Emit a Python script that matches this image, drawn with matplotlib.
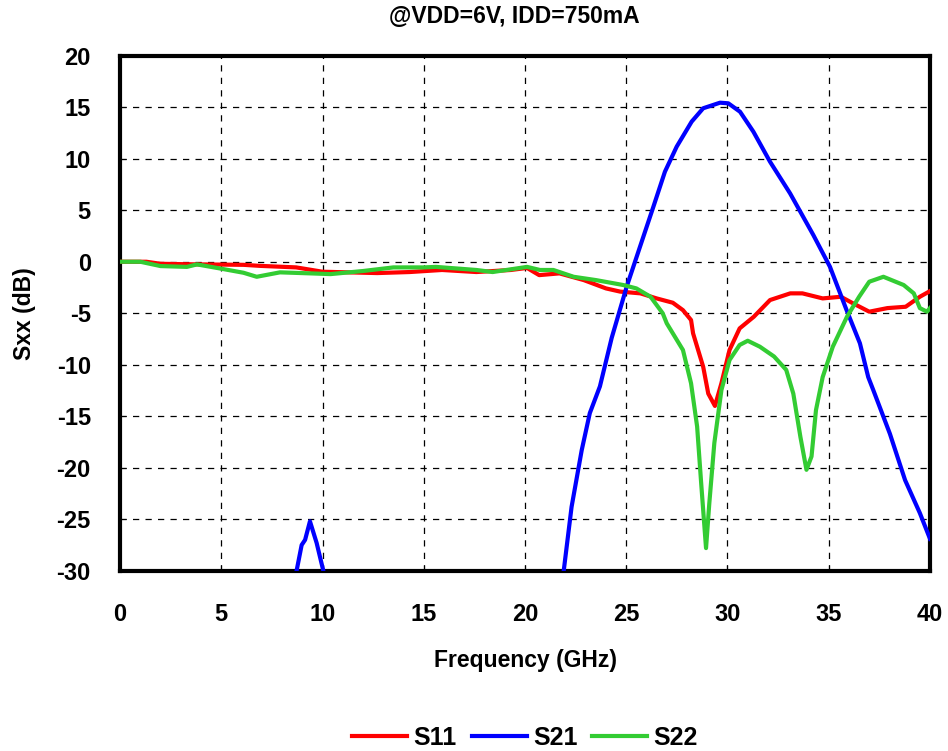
import numpy as np
import matplotlib
matplotlib.use("Agg")
import matplotlib.pyplot as plt

plt.rcParams['font.family'] = ['Liberation Sans', 'DejaVu Sans']
plt.rcParams['font.weight'] = 'bold'
plt.rcParams['axes.unicode_minus'] = False

title = "@VDD=6V, IDD=750mA"
x_label = "Frequency (GHz)"
y_label = "Sxx (dB)"

# S11 (red)
s11_f = [0.0, 1.3, 2.0, 3.6, 6.1, 6.9, 8.7, 10.0, 12.7, 14.3, 15.9, 17.6, 19.3, 20.1, 20.7,
         21.7, 22.9, 24.0, 24.7, 25.7, 26.5, 27.3, 27.8, 28.2, 28.3, 28.8, 29.05, 29.38,
         29.7, 30.1, 30.6, 31.3, 32.1, 33.1, 33.7, 34.7, 35.6, 36.2, 37.0, 37.9, 38.8, 39.5, 40.0]
s11_db = [0.0, 0.0, -0.2, -0.25, -0.3, -0.4, -0.55, -0.97, -1.1, -1.0, -0.8, -1.0, -0.8, -0.6, -1.3,
          -1.13, -1.78, -2.59, -2.9, -3.07, -3.56, -3.98, -4.7, -5.66, -6.95, -10.2, -12.8, -14.0,
          -11.8, -8.57, -6.47, -5.34, -3.72, -3.07, -3.07, -3.56, -3.4, -4.04, -4.85, -4.5, -4.37, -3.4, -2.85]

# S21 (blue)
s21_f = [8.6, 8.72, 8.97, 9.14, 9.38, 9.71, 10.04, 10.1, np.nan,
         21.85, 22.3, 22.8, 23.2, 23.7, 24.28, 25.02, 25.68, 26.34, 26.91, 27.49, 28.23, 28.8,
         29.63, 30.04, 30.62, 31.28, 32.1, 33.09, 34.24, 35.06, 35.88, 36.54, 36.95, 37.2,
         38.02, 38.77, 39.5, 40.0]
s21_db = [-31.0, -30.0, -27.5, -27.0, -25.2, -27.3, -30.0, -31.0, np.nan,
          -31.0, -23.8, -18.3, -14.7, -12.1, -7.4, -2.43, 1.46, 5.34, 8.74, 11.17, 13.6, 14.9,
          15.44, 15.38, 14.56, 12.62, 9.71, 6.64, 2.59, -0.49, -4.69, -7.92, -11.2, -12.46,
          -16.7, -21.2, -24.4, -26.9]

# S22 (green)
s22_f = [0.0, 1.0, 2.0, 3.3, 3.8, 4.9, 6.1, 6.75, 7.9, 9.4, 10.4, 12.0, 13.5, 15.0, 15.6, 17.6,
         18.4, 20.1, 20.74, 21.4, 22.4, 23.5, 24.85, 25.5, 26.2, 26.8, 27.0, 27.8, 28.2, 28.5,
         28.7, 28.94, 29.1, 29.35, 29.7, 30.1, 30.6, 31.0, 31.6, 32.3, 32.9, 33.25, 33.6, 33.9,
         34.15, 34.37, 34.7, 35.2, 35.9, 36.5, 37.0, 37.7, 38.7, 39.2, 39.5, 39.85, 40.0]
s22_db = [0.0, 0.0, -0.42, -0.5, -0.26, -0.64, -1.07, -1.46, -1.03, -1.13, -1.2, -0.9, -0.55, -0.55,
          -0.5, -0.8, -1.0, -0.5, -0.8, -0.8, -1.46, -1.78, -2.26, -2.59, -3.4, -5.0, -5.98, -8.57,
          -11.8, -16.0, -21.5, -27.8, -23.5, -17.6, -12.46, -9.54, -8.08, -7.67, -8.25, -9.2, -10.5,
          -12.8, -17.0, -20.2, -18.9, -14.4, -11.2, -8.25, -5.34, -3.4, -1.94, -1.46, -2.26, -3.07,
          -4.5, -4.85, -4.5]

x_ticks = [0, 5, 10, 15, 20, 25, 30, 35, 40]
y_ticks = [-30, -25, -20, -15, -10, -5, 0, 5, 10, 15, 20]

fig = plt.figure(figsize=(9.48, 7.51), dpi=100)
ax = fig.add_axes([0.1266, 0.24, 0.8544, 0.6858])

lw = 3.0
ax.plot(s11_f, s11_db, color='#ff0000', lw=lw, label='S11', zorder=3)
ax.plot(s21_f, s21_db, color='#0000ff', lw=lw, label='S21', zorder=3)
ax.plot(s22_f, s22_db, color='#33cc33', lw=lw, label='S22', zorder=4)

ax.set_xlim(0, 40)
ax.set_ylim(-30, 20)
ax.set_xticks(x_ticks)
ax.set_yticks(y_ticks)
ax.grid(True, color='black', linestyle=(0, (5, 5)), linewidth=0.9)
ax.set_axisbelow(True)
for s in ax.spines.values():
    s.set_linewidth(3.0)
ax.tick_params(direction='in', length=4, width=0.8, labelsize=17)
ax.tick_params(axis='x', pad=23)
ax.tick_params(axis='y', pad=21)
for lbl in ax.get_xticklabels() + ax.get_yticklabels():
    lbl.set_fontweight('bold')

ax.set_xlabel(x_label, fontsize=16.5, fontweight='bold', labelpad=17)
ax.set_ylabel(y_label, fontsize=16.5, fontweight='bold', labelpad=15)
fig.text(514 / 948, 1 - 16.5 / 751, title, ha='center', va='center', fontsize=16.5, fontweight='bold')

leg = fig.legend(loc='center', bbox_to_anchor=(525 / 948, 1 - 738 / 751), ncol=3, frameon=False,
                 prop={'size': 18, 'weight': 'bold'}, handlelength=2.2, columnspacing=0.6,
                 handletextpad=0.25)
for h in leg.get_lines():
    h.set_linewidth(3)

fig.savefig('out.png', dpi=100)
